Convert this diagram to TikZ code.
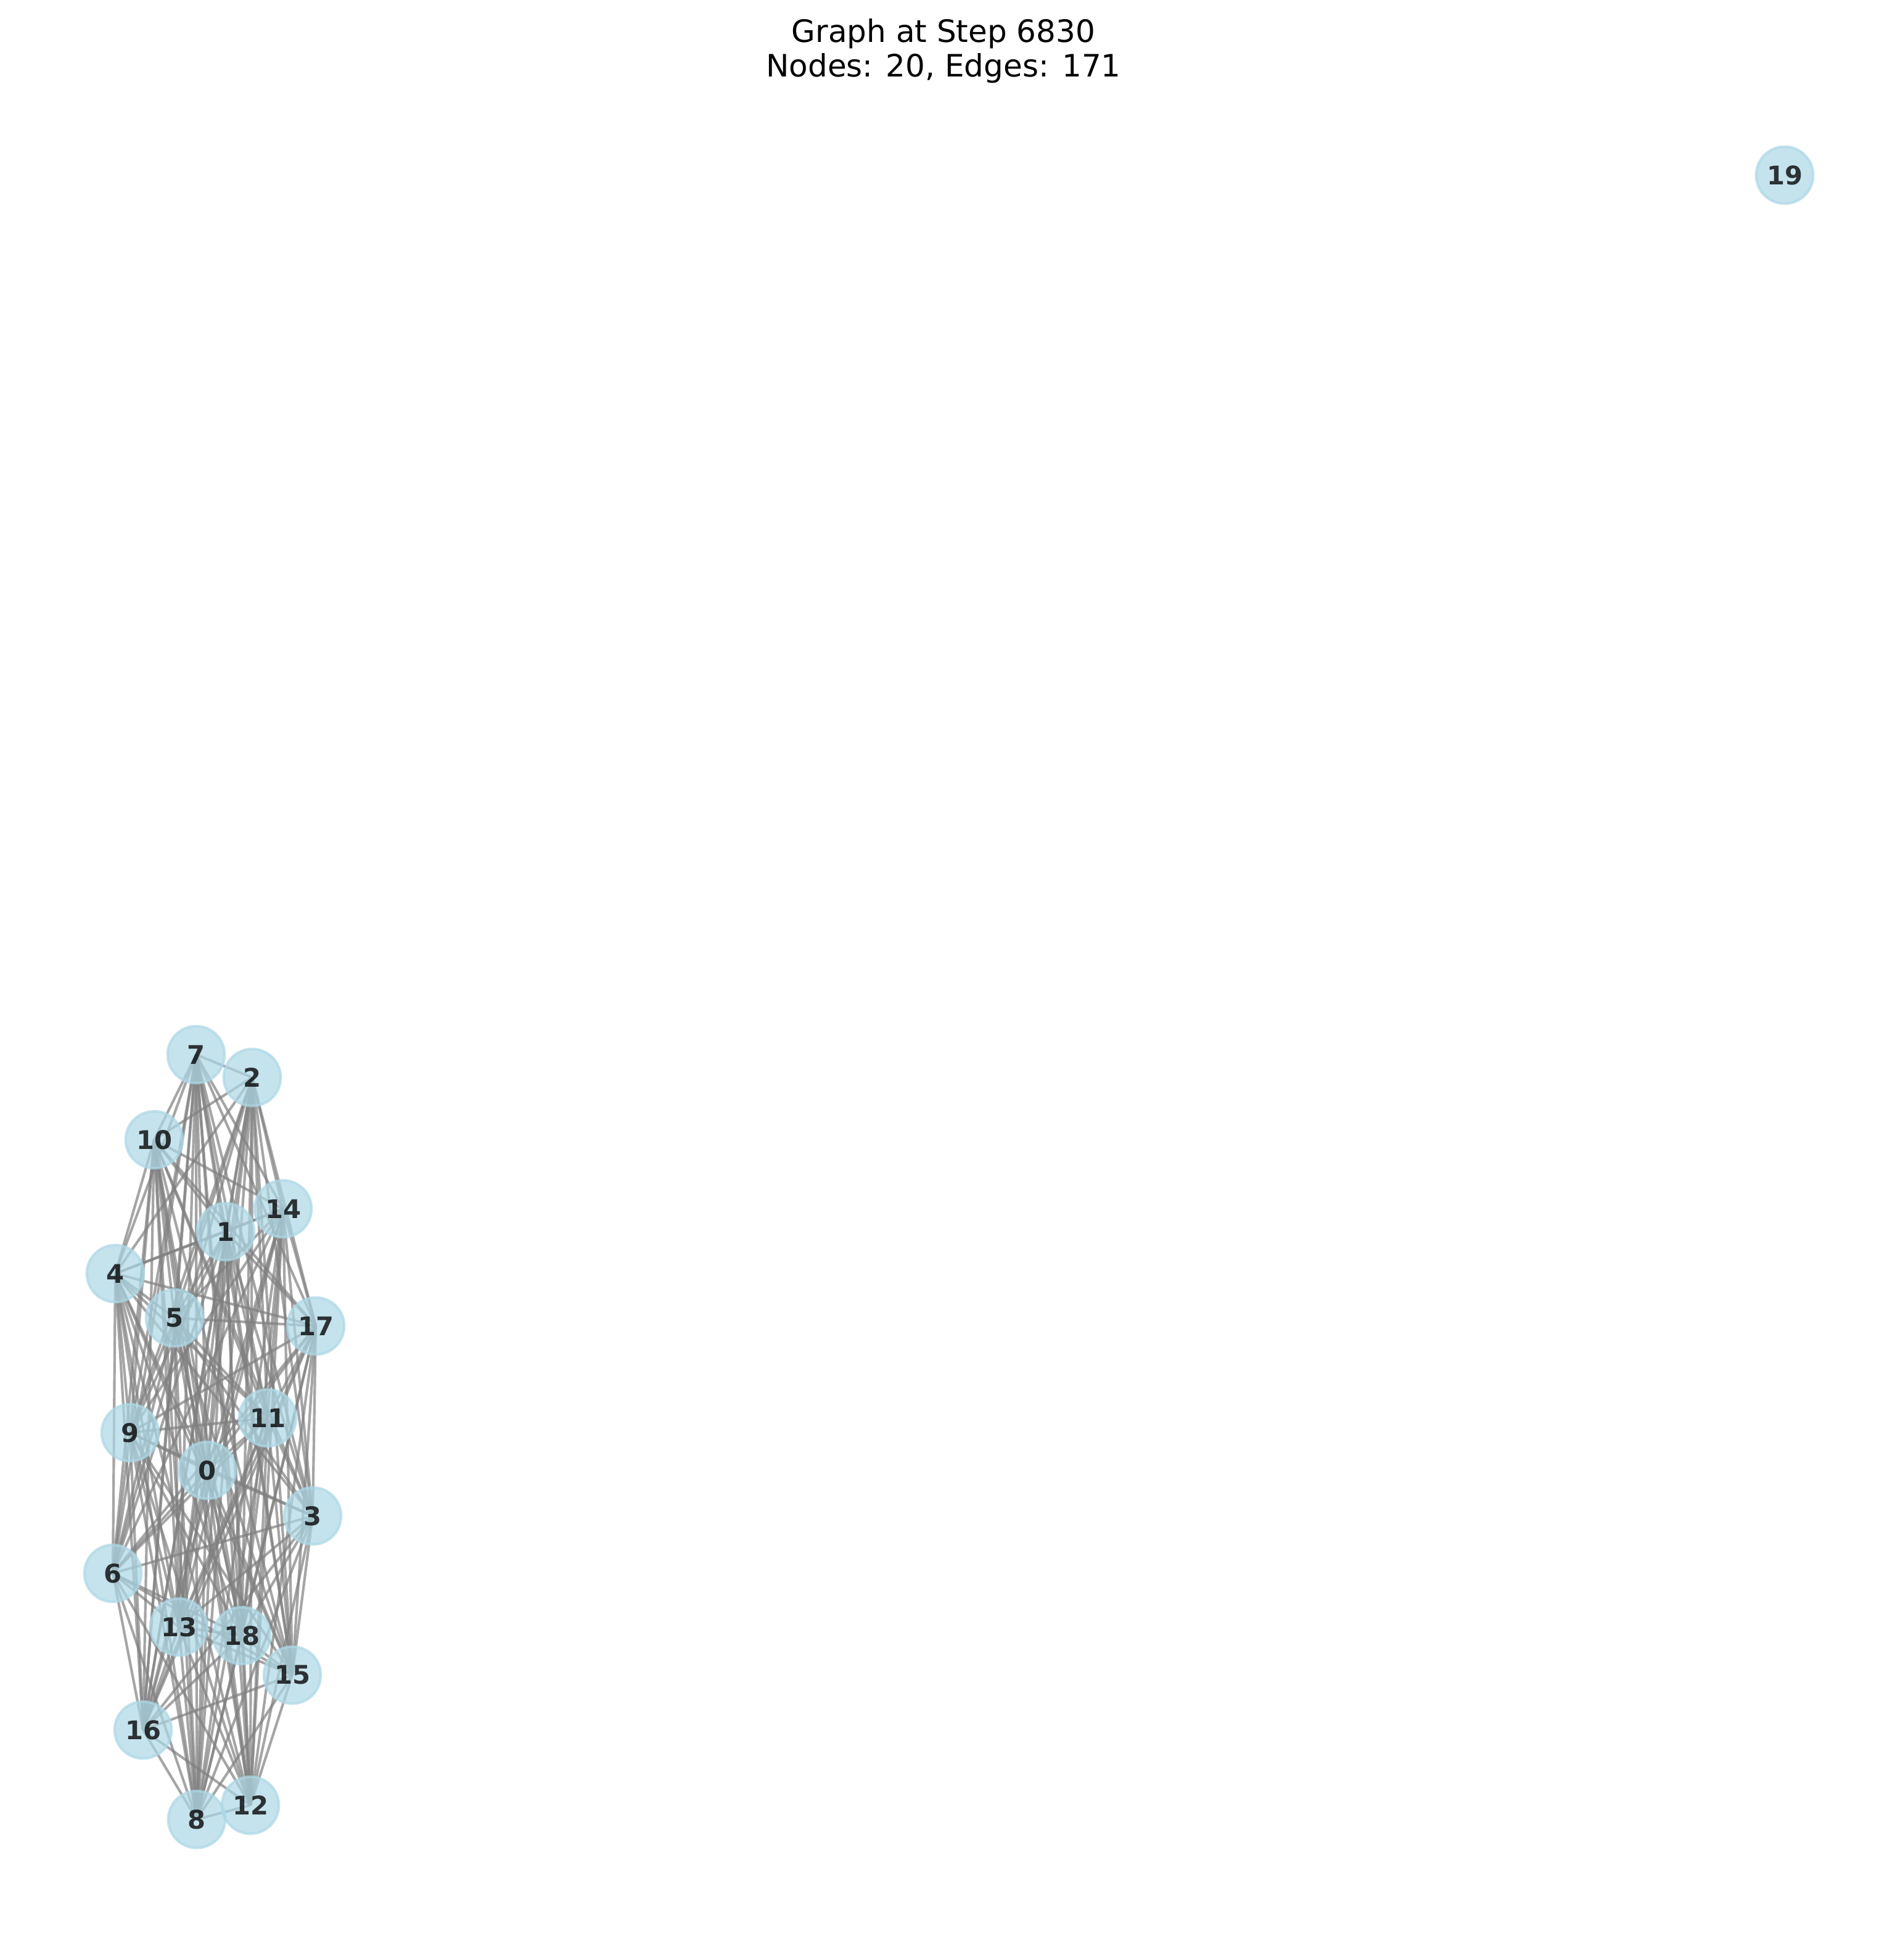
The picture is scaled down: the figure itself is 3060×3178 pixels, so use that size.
\documentclass[tikz,border=0pt]{standalone}
\usepackage{fontspec}
\setmainfont{DejaVu Sans}
\definecolor{lightblue}{HTML}{ADD8E6}
\definecolor{edgegray}{HTML}{808080}
\pgfdeclarelayer{bg}
\pgfdeclarelayer{edges}
\pgfsetlayers{bg,edges,main}
\begin{document}
\begin{tikzpicture}[x=0.24pt,y=-0.24pt,
  vtx/.style={circle,inner sep=0pt,minimum size=22.2pt,fill=lightblue,draw=lightblue,
    fill opacity=0.7,draw opacity=0.7,line width=1pt,text=black,text opacity=0.78,
    font=\fontsize{10}{12}\selectfont\bfseries},
  link/.style={draw=edgegray,draw opacity=0.7,line width=1pt},
  ttl/.style={anchor=base,font=\fontsize{12}{14}\selectfont,inner sep=0pt}]
\begin{pgfonlayer}{bg}
\fill[white] (0,0) rectangle (3060,3178);
\end{pgfonlayer}
\useasboundingbox (0,0) rectangle (3060,3178);
\node[vtx] (n0) at (336,2384) {0};
\node[vtx] (n1) at (366,1997) {1};
\node[vtx] (n2) at (409,1747) {2};
\node[vtx] (n3) at (507,2458) {3};
\node[vtx] (n4) at (187,2065) {4};
\node[vtx] (n5) at (283,2137) {5};
\node[vtx] (n6) at (183,2551) {6};
\node[vtx] (n7) at (318,1710) {7};
\node[vtx] (n8) at (319,2950) {8};
\node[vtx] (n9) at (211,2323) {9};
\node[vtx] (n10) at (250,1848) {10};
\node[vtx] (n11) at (434,2299) {11};
\node[vtx] (n12) at (406,2927) {12};
\node[vtx] (n13) at (290,2638) {13};
\node[vtx] (n14) at (459,1960) {14};
\node[vtx] (n15) at (474,2716) {15};
\node[vtx] (n16) at (232,2805) {16};
\node[vtx] (n17) at (512,2150) {17};
\node[vtx] (n18) at (392,2652) {18};
\node[vtx] (n19) at (2894,284) {19};
\begin{pgfonlayer}{edges}
\foreach \i in {0,...,17}{%
  \pgfmathtruncatemacro\s{\i+1}%
  \foreach \j in {\s,...,18}{\draw[link] (n\i.center) -- (n\j.center);}%
}
\end{pgfonlayer}
\node[ttl] (title1) at (1530,68) {Graph at Step 6830};
\node[ttl] (title2) at (1530,124) {Nodes: 20, Edges: 171};
\end{tikzpicture}
\end{document}
